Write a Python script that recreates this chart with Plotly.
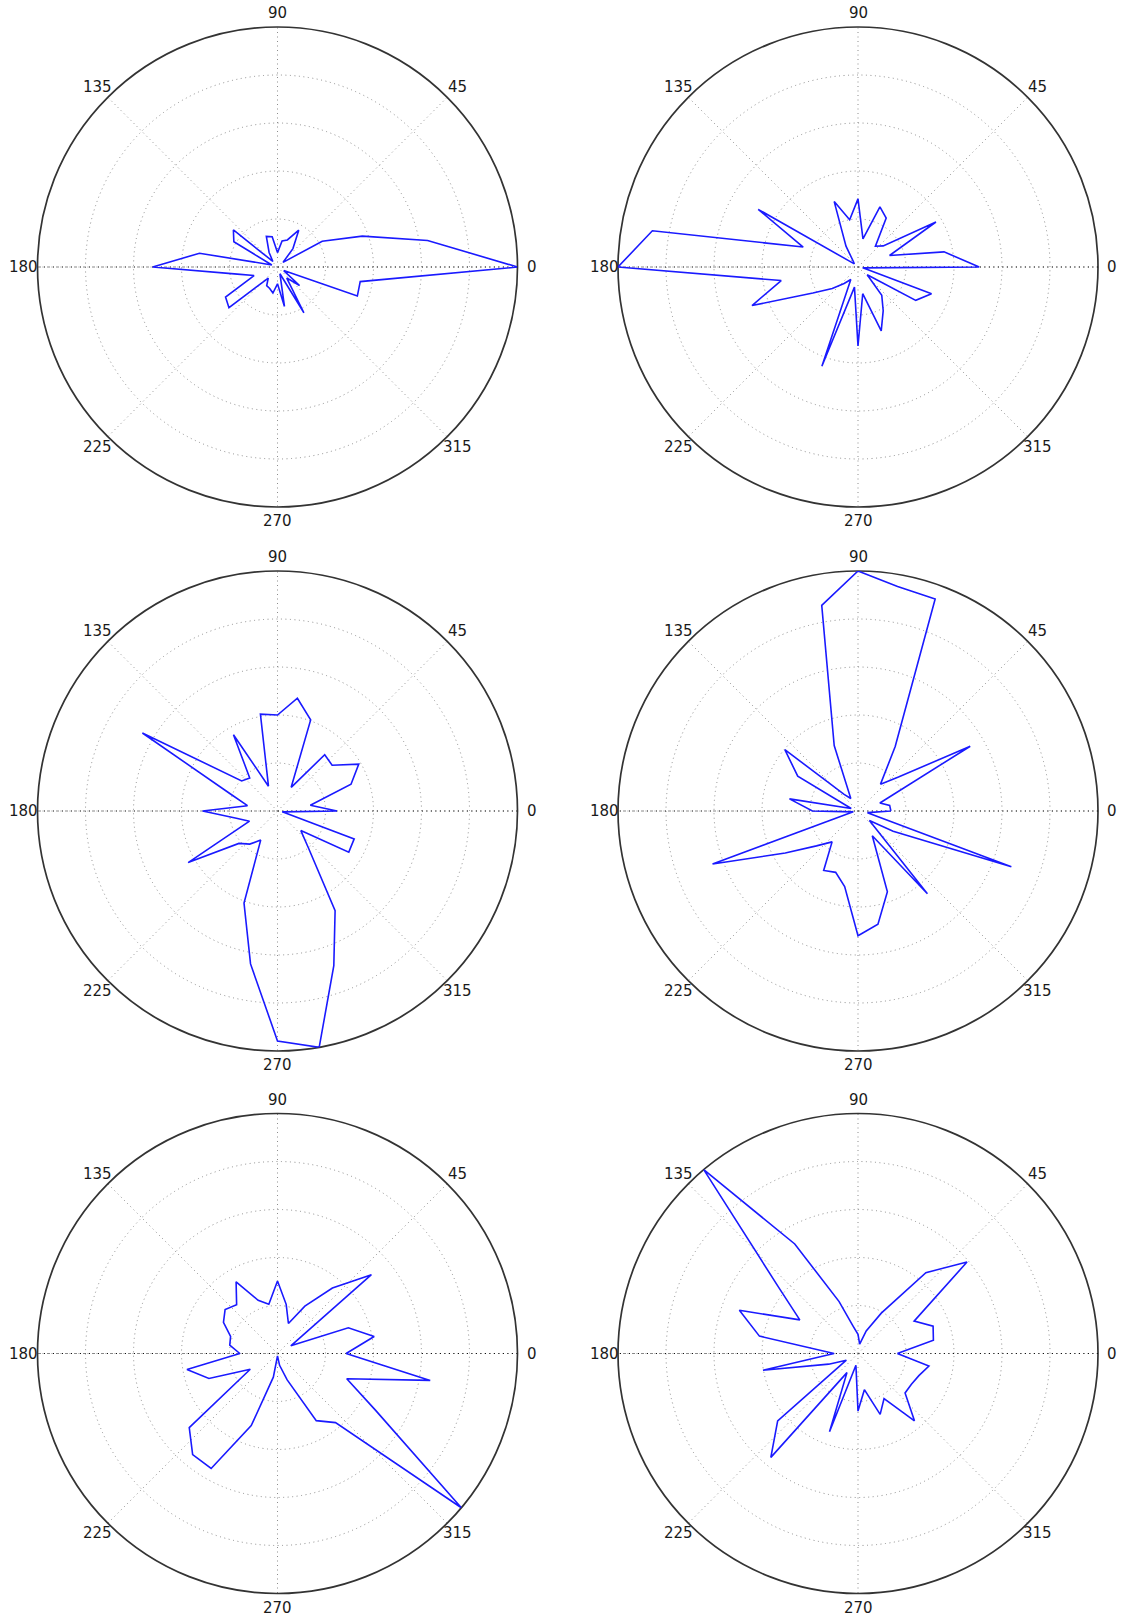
import math
import plotly.graph_objects as go

# Bearing of every sample, in degrees (counter-clockwise from east)
ANGLES = [0, 10, 20, 30, 40, 50, 60, 70, 80, 90, 100, 110,
          120, 130, 140, 150, 160, 170, 180, 190, 200, 210, 220, 230,
          240, 250, 260, 270, 280, 290, 300, 310, 320, 330, 340, 350]

# Normalised magnitude per bearing, one list per panel
r_top_left = [1.0, 0.635, 0.376, 0.215, 0.03, 0.10, 0.177, 0.12, 0.11, 0.06, 0.128, 0.136,
              0.07, 0.03, 0.24, 0.21, 0.025, 0.33, 0.52, 0.17, 0.104, 0.25, 0.264, 0.06,
              0.09, 0.095, 0.11, 0.07, 0.167, 0.03, 0.22, 0.06, 0.12, 0.03, 0.354, 0.35]

r_top_right = [0.505, 0.364, 0.14, 0.375, 0.137, 0.113, 0.235, 0.267, 0.119, 0.284, 0.2, 0.29,
               0.1, 0.03, 0.02, 0.48, 0.243, 0.87, 1.0, 0.325, 0.47, 0.217, 0.14, 0.09,
               0.06, 0.44, 0.085, 0.329, 0.113, 0.283, 0.21, 0.154, 0.05, 0.278, 0.326, 0.02]

r_mid_left = [0.248, 0.139, 0.326, 0.391, 0.297, 0.306, 0.114, 0.404, 0.477, 0.40, 0.41, 0.11,
              0.367, 0.18, 0.195, 0.65, 0.21, 0.127, 0.312, 0.174, 0.124, 0.43, 0.21, 0.18,
              0.14, 0.408, 0.647, 0.958, 1.0, 0.686, 0.48, 0.2, 0.127, 0.343, 0.34, 0.02]

r_mid_right = [0.137, 0.134, 0.097, 0.54, 0.22, 0.146, 0.31, 0.94, 0.95, 1.0, 0.87, 0.29,
               0.06, 0.09, 0.398, 0.29, 0.03, 0.29, 0.19, 0.02, 0.645, 0.35, 0.226, 0.168,
               0.286, 0.272, 0.32, 0.52, 0.479, 0.358, 0.119, 0.45, 0.062, 0.169, 0.68, 0.04]

r_bottom_left = [0.286, 0.409, 0.314, 0.064, 0.511, 0.356, 0.228, 0.133, 0.208, 0.302, 0.208, 0.236,
                 0.345, 0.265, 0.285, 0.26, 0.208, 0.202, 0.157, 0.383, 0.304, 0.131, 0.48, 0.55,
                 0.553, 0.32, 0.1, 0.01, 0.05, 0.116, 0.323, 0.376, 1.0, 0.47, 0.307, 0.646]

r_bottom_right = [0.164, 0.319, 0.333, 0.27, 0.593, 0.44, 0.194, 0.1, 0.04, 0.08, 0.115, 0.23,
                  0.527, 1.0, 0.435, 0.28, 0.526, 0.417, 0.1, 0.402, 0.13, 0.056, 0.437, 0.565,
                  0.092, 0.347, 0.05, 0.24, 0.153, 0.27, 0.217, 0.366, 0.256, 0.257, 0.27, 0.30]

PANELS = [r_top_left, r_top_right, r_mid_left, r_mid_right, r_bottom_left, r_bottom_right]

ANGLE_TICKS = [0, 45, 90, 135, 180, 225, 270, 315]
ANGLE_LABELS = ["0", "45", "90", "135", "180", "225", "270", "315"]

# Pixel layout of the 3x2 grid of polar axes
W, H = 1123, 1618
RADIUS = 240
LABEL_RADIUS = 254          # angle labels are centred just outside the rim
COL_CX = [277.5, 858.0]
ROW_CY = [267.0, 811.0, 1353.5]

fig = go.Figure()
layout_polars = {}
annotations = []

for i, radii in enumerate(PANELS):
    row, col = divmod(i, 2)
    name = "polar" if i == 0 else f"polar{i + 1}"
    cx, cy = COL_CX[col], ROW_CY[row]
    layout_polars[name] = dict(
        domain=dict(
            x=[(cx - RADIUS) / W, (cx + RADIUS) / W],
            y=[1 - (cy + RADIUS) / H, 1 - (cy - RADIUS) / H],
        ),
        bgcolor="white",
        radialaxis=dict(
            range=[0, 1],
            tick0=0,
            dtick=0.2,
            showticklabels=False,
            ticks="",
            showline=False,
            gridcolor="#8c8c8c",
            griddash="1px,3.5px",
            gridwidth=1.1,
            layer="below traces",
        ),
        angularaxis=dict(
            direction="counterclockwise",
            rotation=0,
            tickmode="array",
            tickvals=ANGLE_TICKS,
            showticklabels=False,
            ticks="",
            showline=True,
            linecolor="#333333",
            linewidth=1.7,
            gridcolor="#8c8c8c",
            griddash="1px,3.5px",
            gridwidth=1.1,
            layer="below traces",
        ),
    )

    # angle labels centred on a ring just outside the rim
    for ang, txt in zip(ANGLE_TICKS, ANGLE_LABELS):
        a = math.radians(ang)
        annotations.append(dict(
            x=(cx + LABEL_RADIUS * math.cos(a)) / W,
            y=1 - (cy - LABEL_RADIUS * math.sin(a)) / H,
            xref="paper", yref="paper",
            text=txt, showarrow=False,
            xanchor="center", yanchor="middle",
            font=dict(family="DejaVu Sans", size=15, color="#1a1a1a"),
        ))

    # darker dotted reference line along the 0-180 axis
    fig.add_trace(go.Scatterpolar(
        r=[1, 0, 1], theta=[0, 0, 180], mode="lines",
        line=dict(color="#111111", width=1.2, dash="1px,3.5px"),
        hoverinfo="skip", showlegend=False, subplot=name,
    ))

    # closed outline of the distribution
    fig.add_trace(go.Scatterpolar(
        r=radii + [radii[0]],
        theta=ANGLES + [ANGLES[0]],
        mode="lines",
        line=dict(color="#1a1aff", width=1.6),
        showlegend=False,
        subplot=name,
    ))

fig.update_layout(
    width=W,
    height=H,
    margin=dict(l=0, r=0, t=0, b=0),
    paper_bgcolor="white",
    plot_bgcolor="white",
    showlegend=False,
    annotations=annotations,
    **layout_polars,
)

fig.write_html("out.html")
